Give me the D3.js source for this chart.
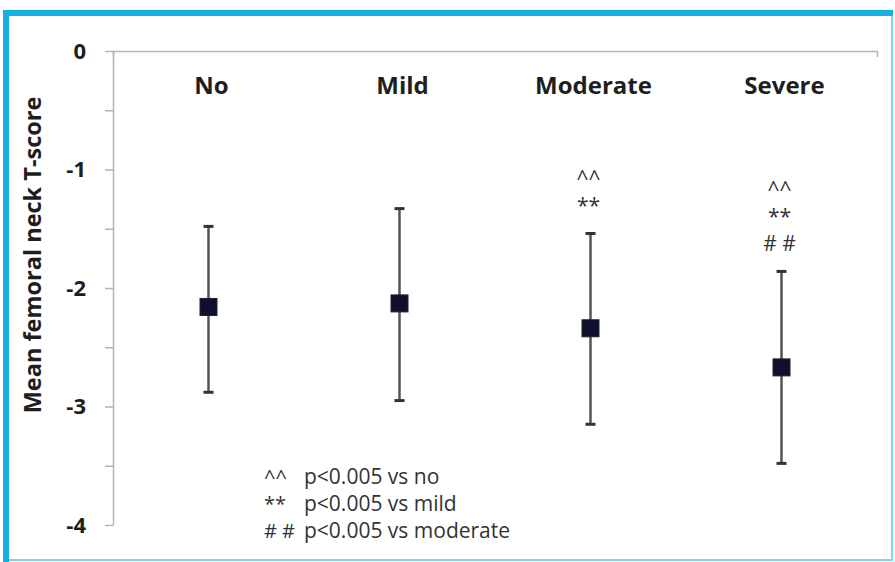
<!DOCTYPE html>
<html>
<head>
<meta charset="utf-8">
<script src="https://cdn.jsdelivr.net/npm/d3@7"></script>
<style>
  html, body { margin: 0; padding: 0; background: #fff; }
  svg { display: block; }
</style>
</head>
<body>
<svg id="chart" width="895" height="562"></svg>
<script>
// ---- data ----
const categories = ["No", "Mild", "Moderate", "Severe"];
const means = [-2.16, -2.13, -2.34, -2.67];
const upper = [-1.48, -1.33, -1.54, -1.86];
const lower = [-2.88, -2.95, -3.15, -3.48];
const annotations = [[], [], ["^^", "**"], ["^^", "**", "# #"]];
const yTicks = [0, -0.5, -1, -1.5, -2, -2.5, -3, -3.5, -4];
const legendSymbols = ["^^", "**", "# #"];
const legendTexts = ["p<0.005 vs no", "p<0.005 vs mild", "p<0.005 vs moderate"];
const yLabel = "Mean femoral neck T-score";

const svg = d3.select("#chart");
const W = 895, H = 562;
const FONT = "'Open Sans', 'DejaVu Sans', sans-serif";

// frame
svg.append("rect").attr("x", 0).attr("y", 0).attr("width", W).attr("height", H).attr("fill", "#fff");
svg.append("rect").attr("x", 6).attr("y", 13).attr("width", 886).attr("height", 547)
  .attr("fill", "none").attr("stroke", "#7fd6ef").attr("stroke-width", 2);
svg.append("line").attr("x1", 3).attr("x2", 893).attr("y1", 13).attr("y2", 13)
  .attr("stroke", "#16afe3").attr("stroke-width", 6);
svg.append("line").attr("x1", 6).attr("x2", 6).attr("y1", 10).attr("y2", 562)
  .attr("stroke", "#16afe3").attr("stroke-width", 6);

// scales
const x = d3.scaleBand().domain(categories).range([113, 877]);
const y = d3.scaleLinear().domain([0, -4]).range([51, 525]);

// y axis
const yAxis = d3.axisLeft(y).tickValues(yTicks).tickSize(8).tickSizeOuter(0)
  .tickFormat(d => Number.isInteger(d) ? d3.format("")(d).replace("−", "-") : "");
const ya = svg.append("g").attr("transform", "translate(113,0)").call(yAxis);
ya.selectAll("path, line").attr("stroke", "#b5b5b5").attr("stroke-width", 1.5);
ya.selectAll("text").attr("x", -27).attr("font-family", FONT).attr("font-weight", "bold")
  .attr("font-size", 22).attr("fill", "#1e1e1e");

// top (x) axis at y = 0
const xAxis = d3.axisBottom(x).tickValues([]).tickSizeOuter(6);
const xa = svg.append("g").attr("transform", `translate(0,${y(0)})`).call(xAxis);
xa.selectAll("path").attr("stroke", "#b5b5b5").attr("stroke-width", 1.5);

// category labels
svg.append("g").selectAll("text").data(categories).join("text")
  .attr("x", d => x(d) + x.bandwidth() / 2 + 3).attr("y", 94)
  .attr("text-anchor", "middle").attr("font-family", FONT).attr("font-weight", "bold")
  .attr("font-size", 24).attr("fill", "#1e1e1e").text(d => d);

// y label
svg.append("text").attr("transform", "translate(41,255) rotate(-90)")
  .attr("text-anchor", "middle").attr("font-family", FONT).attr("font-weight", "bold")
  .attr("font-size", 23.5).attr("fill", "#1e1e1e").text(yLabel);

// error bars
const g = svg.append("g");
categories.forEach((c, i) => {
  const cx = x(c) + x.bandwidth() / 2;
  g.append("line").attr("x1", cx).attr("x2", cx).attr("y1", y(upper[i])).attr("y2", y(lower[i]))
    .attr("stroke", "#555").attr("stroke-width", 2.5);
  [upper[i], lower[i]].forEach(v => {
    g.append("line").attr("x1", cx - 5).attr("x2", cx + 5).attr("y1", y(v)).attr("y2", y(v))
      .attr("stroke", "#333").attr("stroke-width", 3);
  });
  g.append("rect").attr("x", cx - 8.5).attr("y", y(means[i]) - 8.5).attr("width", 17).attr("height", 17)
    .attr("fill", "#0f1030").attr("stroke", "#222").attr("stroke-width", 1);
  // annotations
  const n = annotations[i].length;
  annotations[i].forEach((s, j) => {
    g.append("text").attr("x", cx - 2)
      .attr("y", y(upper[i]) - 20 - (n - 1 - j) * 27)
      .attr("text-anchor", "middle").attr("font-family", FONT).attr("font-size", 21)
      .attr("fill", "#333").text(s);
  });
});

// legend
const lg = svg.append("g");
legendTexts.forEach((t, i) => {
  const yy = 484 + i * 27;
  lg.append("text").attr("x", 264).attr("y", yy).attr("font-family", FONT).attr("font-size", 20)
    .attr("fill", "#333").text(legendSymbols[i]);
  lg.append("text").attr("x", 304).attr("y", yy).attr("font-family", FONT).attr("font-size", 21)
    .attr("fill", "#333").text(t);
});
</script>
</body>
</html>
